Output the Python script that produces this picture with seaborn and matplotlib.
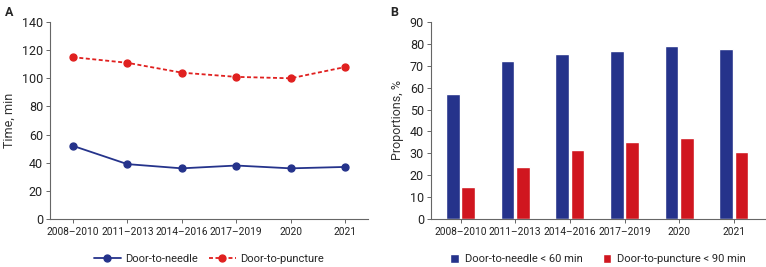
import pandas as pd
import numpy as np
import matplotlib.pyplot as plt
import seaborn as sns

periods = ['2008–2010', '2011–2013', '2014–2016', '2017–2019', '2020', '2021']
dtn_time = [52, 39, 36, 38, 36, 37]
dtp_time = [115, 111, 104, 101, 100, 108]
dtn_prop = [57.2, 72.3, 75.5, 76.6, 79.0, 77.5]
dtp_prop = [14.6, 23.6, 31.6, 35.4, 36.8, 30.7]

blue = '#25338b'
red_line = '#e0201f'
red_bar = '#d0161f'

sns.set_style('ticks')
plt.rcParams['font.family'] = ['Roboto', 'DejaVu Sans']

fig = plt.figure(figsize=(7.66, 2.67), dpi=100)
ax1 = fig.add_axes([50 / 766, 48 / 267, 318 / 766, 197 / 267])
ax2 = fig.add_axes([431 / 766, 48 / 267, 334 / 766, 197 / 267])

# panel A - lines
time_df = pd.DataFrame({
    'Period': periods * 2,
    'Time': dtn_time + dtp_time,
    'Series': ['Door-to-needle'] * 6 + ['Door-to-puncture'] * 6,
})
sns.pointplot(data=time_df, x='Period', y='Time', hue='Series',
              palette=[blue, red_line], markers=['o', 'o'],
              linestyles=['-', (0, (2.2, 1.4))], markersize=5, linewidth=1.3,
              ax=ax1)
ax1.set_ylim(0, 140)
ax1.set_yticks(range(0, 141, 20))
ax1.set_xlim(-0.42, 5.42)
ax1.set_xlabel('')
ax1.set_ylabel('Time, min', fontsize=9, color='#333333')
ax1.legend(loc='center', bbox_to_anchor=(0.5, -0.205), ncol=2,
           frameon=False, fontsize=8, handlelength=2.4, columnspacing=1.0,
           handletextpad=0.4, borderpad=0, borderaxespad=0)

# panel B - bars
prop_df = pd.DataFrame({
    'Period': periods * 2,
    'Prop': dtn_prop + dtp_prop,
    'Series': ['Door-to-needle < 60 min'] * 6 + ['Door-to-puncture < 90 min'] * 6,
})
sns.barplot(data=prop_df, x='Period', y='Prop', hue='Series',
            palette=[blue, red_bar], width=0.56, gap=0.1, saturation=1,
            ax=ax2)
ax2.set_ylim(0, 90)
ax2.set_yticks(range(0, 91, 10))
ax2.set_xlim(-0.54, 5.57)
ax2.set_xlabel('')
ax2.set_ylabel('Proportions, %', fontsize=9, color='#333333')
ax2.legend(loc='center', bbox_to_anchor=(0.5, -0.205), ncol=2,
           frameon=False, fontsize=8, handlelength=0.8, handleheight=0.8,
           columnspacing=1.8, handletextpad=0.5, borderpad=0, borderaxespad=0)

for ax in (ax1, ax2):
    sns.despine(ax=ax)
    for s in ('left', 'bottom'):
        ax.spines[s].set_color('#666666')
        ax.spines[s].set_linewidth(0.8)
    ax.tick_params(axis='y', labelsize=9, length=3, width=0.7, colors='#666666',
                   labelcolor='#222222', pad=2)
    ax.tick_params(axis='x', labelsize=7.3, length=3, width=0.7, colors='#666666',
                   labelcolor='#222222', pad=3)

fig.text(5 / 766, 1 - 6 / 267, 'A', fontsize=9, fontweight='bold', va='top')
fig.text(390 / 766, 1 - 6 / 267, 'B', fontsize=9, fontweight='bold', va='top')

plt.savefig('out.png', dpi=100)
